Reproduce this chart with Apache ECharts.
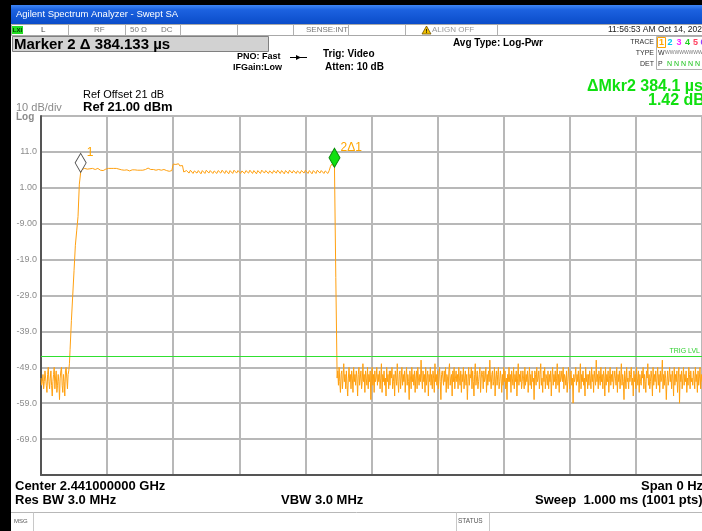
<!DOCTYPE html>
<html><head><meta charset="utf-8">
<script src="https://cdn.jsdelivr.net/npm/echarts@6/dist/echarts.min.js"></script>
<style>html,body{margin:0;padding:0;background:#fff}#c{width:702px;height:531px}</style>
</head><body><div id="c"></div>
<script>
// Sweep 0 .. 1.000 ms. Noise segments read at 0.001 ms, burst at 0.002 ms.
const noiseLeadStart = 0, noiseLeadStep = 0.001;
const noiseLead = [-52,-54,-53,-51,-55,-53,-50,-52,-54,-56,-51,-49,-53,-55,-52,-50,-54,-57,-53,-51,
 -49,-55,-52,-50,-56,-54,-51,-53,-58,-52,-50,-49,-54,-56,-51,-53,-57,-50,-49,-52,-55,-51,-50,-48];
const burstStart = 0.044, burstStep = 0.002;
const riseEdge = [-44,-36,-29,-22,-15,-11,-7,2];
const plateau = [5.3,
 6.1,6.3,6.4,6.3,6.2,6.4,6.3,6.2,6.4,6.3,6.1,6.3,6.4,6.2,
 5.9,5.7,5.8,6.0,6.2,
 6.3,6.4,6.3,6.4,6.5,6.4,6.3,6.4,6.3,6.2,6.1,6.0,5.9,
 5.9,5.8,6.0,5.9,5.7,5.8,6.0,5.9,6.0,5.8,5.9,6.0,5.9,6.0,5.9,6.0,6.1,6.3,
 6.5,6.4,6.1,6.0,6.1,6.0,5.9,6.0,6.1,6.0,5.9,6.0,6.1,6.0,
 5.8,5.7,5.6,5.7,5.8,
 7.6,7.9,7.5,7.3,7.7,7.1,7.0,7.2,
 5.4,
 5.0,5.8,6.2,5.1,5.9,6.1,5.0,5.7,6.2,5.1,5.8,6.2,4.9,5.8,6.1,5.0,5.9,6.2,5.1,5.8,6.2,5.0,5.7,6.1,5.0,5.8,6.2,5.1,5.9,6.2,
 5.0,5.8,6.1,4.9,5.8,6.2,5.0,5.9,6.2,5.1,5.8,6.1,5.0,5.7,6.2,5.0,5.8,6.2,5.1,5.9,6.1,5.0,5.8,6.2,4.9,5.8,6.2,5.0,5.9,6.1,
 5.1,5.8,6.2,5.0,5.7,6.2,5.0,5.8,6.1,5.1,5.9,6.2,5.0,5.8,6.2,4.9,5.8,6.1,5.0,5.9,6.2,5.1,5.8,6.2,5.0,5.7,6.1,5.0,5.8,6.2,
 5.1,5.9,6.2,5.0,5.8,6.1,4.9,5.8,6.2,5.0,5.9,6.2,5.1,5.8,6.1,5.0,5.7,6.2,5.0,5.8,
 7.0,7.6,7.3,
 6.72];
const fallEdge = [-24];
const noiseTrailStart = 0.448, noiseTrailStep = 0.001;
const noiseTrail = [
 -52,-50,-54,-49,-53,-56,-51,-50,-55,-52,-48,-53,-51,-55,-50,-54,-57,-52,-49,-53,
 -51,-55,-50,-52,-56,-49,-53,-51,-54,-50,-52,-57,-51,-49,-54,-52,-50,-55,-53,-48,
 -53,-51,-56,-50,-52,-54,-49,-55,-51,-53,-50,-58,-52,-49,-54,-51,-56,-50,-53,-52,
 -49,-54,-51,-53,-50,-55,-52,-48,-56,-51,-53,-50,-54,-52,-57,-49,-53,-51,-55,-50,
 -54,-50,-52,-49,-55,-53,-51,-57,-50,-52,-54,-48,-53,-56,-51,-50,-55,-52,-49,-54,
 -51,-53,-50,-56,-52,-49,-54,-51,-53,-58,-50,-52,-55,-49,-53,-51,-54,-50,-56,-52,
 -50,-55,-49,-52,-54,-51,-53,-47,-52,-55,-50,-53,-51,-56,-49,-54,-52,-50,-57,-51,
 -53,-49,-54,-51,-55,-50,-52,-56,-48,-53,-51,-54,-50,-55,-52,-49,-53,-58,-51,-50,
 -52,-54,-50,-53,-49,-56,-51,-52,-55,-50,-48,-54,-52,-51,-57,-50,-53,-49,-55,-52,
 -50,-53,-51,-55,-49,-52,-54,-50,-56,-51,-53,-49,-55,-52,-50,-54,-51,-58,-53,-49,
 -54,-51,-52,-49,-55,-50,-53,-57,-51,-48,-54,-52,-50,-55,-53,-51,-49,-56,-52,-50,
 -51,-55,-50,-53,-52,-49,-56,-51,-54,-50,-53,-47,-52,-55,-51,-50,-54,-53,-49,-57,
 -52,-50,-54,-51,-49,-55,-53,-50,-52,-56,-51,-54,-49,-53,-50,-55,-52,-58,-51,-53,
 -49,-53,-51,-56,-50,-52,-54,-49,-55,-51,-53,-50,-57,-52,-48,-54,-51,-53,-50,-55,
 -53,-50,-52,-55,-49,-54,-51,-53,-50,-56,-52,-49,-54,-51,-55,-50,-53,-52,-58,-50,
 -51,-54,-49,-53,-52,-50,-55,-51,-48,-54,-52,-56,-50,-53,-49,-55,-51,-52,-54,-50,
 -55,-51,-53,-50,-57,-52,-49,-54,-51,-53,-50,-55,-52,-48,-54,-51,-56,-50,-53,-52,
 -50,-53,-49,-55,-51,-52,-54,-50,-56,-53,-49,-52,-55,-51,-50,-54,-52,-59,-51,-53,
 -52,-49,-54,-51,-53,-50,-56,-52,-48,-55,-51,-53,-50,-54,-52,-57,-49,-53,-51,-55,
 -51,-54,-50,-52,-55,-49,-53,-51,-56,-50,-52,-54,-47,-53,-51,-55,-50,-52,-54,-49,
 -53,-51,-55,-50,-52,-57,-49,-54,-51,-53,-50,-56,-52,-49,-54,-51,-53,-50,-55,-52,
 -50,-52,-54,-49,-56,-51,-53,-50,-55,-52,-48,-54,-51,-53,-58,-50,-52,-55,-49,-53,
 -52,-55,-50,-53,-51,-49,-54,-52,-57,-50,-53,-51,-55,-49,-52,-54,-50,-56,-51,-53,
 -54,-50,-52,-49,-55,-51,-53,-56,-50,-52,-48,-54,-51,-55,-53,-50,-52,-57,-49,-54,
 -51,-53,-50,-55,-52,-49,-54,-51,-56,-50,-53,-52,-47,-55,-51,-54,-50,-52,-58,-53,
 -50,-54,-52,-49,-53,-51,-55,-50,-52,-57,-49,-54,-51,-53,-50,-56,-52,-49,-59,-51,
 -53,-50,-55,-52,-49,-54,-51,-53,-50,-56,-52,-54,-49,-51,-55,-50,-53,-52,-54,-50,
 -52,-55,-49,-53,-51,-56,-50,-54,-52,-49,-55,-51,-53];
const markerTimes = [0.060, 0.444];
const markerNames = ['1', '2\u03941'];
const trigLevel = -46;
const yTickValues = [11, 1, -9, -19, -29, -39, -49, -59, -69];
const yTickText = ['11.0', '1.00', '-9.00', '-19.0', '-29.0', '-39.0', '-49.0', '-59.0', '-69.0'];

function seg(start, step, vals) { return vals.map((v, i) => [+(start + i * step).toFixed(4), v]); }
const traceData = seg(noiseLeadStart, noiseLeadStep, noiseLead)
  .concat(seg(burstStart, burstStep, riseEdge.concat(plateau, fallEdge)))
  .concat(seg(noiseTrailStart, noiseTrailStep, noiseTrail));
function valueAt(t) { const p = traceData.find(d => Math.abs(d[0] - t) < 1e-6); return p ? p[1] : null; }

const FF = '"Liberation Sans", Arial, sans-serif';
const els = [];
function T(x, y, text, font, fill, align) {
  els.push({type:'text', x:x, y:y, silent:true, z:10,
    style:{text:text, font:font + ' ' + FF, fill:fill || '#000', align:align || 'left', textAlign:align || 'left', verticalAlign:'middle', textVerticalAlign:'middle'}});
}
function R(x, y, w, h, fill, stroke) {
  els.push({type:'rect', silent:true, z:5, shape:{x:x, y:y, width:w, height:h}, style:{fill:fill || 'none', stroke:stroke || null, lineWidth:1}});
}
function L(x1, y1, x2, y2, stroke) {
  els.push({type:'line', silent:true, z:6, shape:{x1:x1, y1:y1, x2:x2, y2:y2}, style:{stroke:stroke || '#a0a0a0', lineWidth:1}});
}
// window frame
R(0, 0, 702, 5, '#000');
R(0, 0, 11, 531, '#000');
els.push({type:'rect', silent:true, z:5, shape:{x:11, y:5, width:691, height:19},
  style:{fill:{type:'linear', x:0, y:0, x2:0, y2:1, colorStops:[{offset:0, color:'#3f86f5'}, {offset:0.25, color:'#1c62e0'}, {offset:1, color:'#0a4cc9'}]}}});
T(16, 14.5, 'Agilent Spectrum Analyzer - Swept SA', '9.5px', '#ffffff');
// status row
R(11.5, 24.5, 691, 11, '#ffffff', '#a8a8a8');
[68, 125, 180, 237, 293, 348, 405, 497].forEach(x => L(x + 0.5, 24.5, x + 0.5, 35.5, '#b0b0b0'));
R(12, 26, 11, 8, '#22dd22');
T(17.5, 30, 'LXI', 'bold 6px', '#003300', 'center');
T(41, 30, 'L', '8px', '#444');
T(94, 30, 'RF', '8px', '#777');
T(130, 30, '50 \u03a9', '8px', '#777');
T(161, 30, 'DC', '8px', '#777');
T(306, 30, 'SENSE:INT', '8px', '#777');
els.push({type:'polygon', silent:true, z:6, shape:{points:[[422,34],[426.5,26],[431,34]]}, style:{fill:'#f0c000', stroke:'#705000', lineWidth:0.8}});
T(426.5, 31, '!', 'bold 6px', '#000', 'center');
T(432, 30, 'ALIGN OFF', '8px', '#999');
T(608, 30, '11:56:53 AM Oct 14, 2020', '8.5px', '#222');
// marker box
R(12.5, 36.5, 256, 15, '#d2d2d2', '#808080');
T(14, 44.5, 'Marker 2 \u0394 384.133 \u00b5s', 'bold 15px', '#000');
T(237, 57, 'PNO: Fast', 'bold 9px', '#000');
T(233, 68, 'IFGain:Low', 'bold 9px', '#000');
L(290, 57.5, 307, 57.5, '#000');
els.push({type:'polygon', silent:true, z:6, shape:{points:[[296,55],[301,57.5],[296,60]]}, style:{fill:'#000'}});
T(323, 54, 'Trig: Video', 'bold 10px', '#000');
T(325, 67, 'Atten: 10 dB', 'bold 10px', '#000');
T(453, 43, 'Avg Type: Log-Pwr', 'bold 10px', '#000');
// trace table
T(654, 42, 'TRACE', '7px', '#333', 'right');
T(654, 53, 'TYPE', '7px', '#333', 'right');
T(654, 64, 'DET', '7px', '#333', 'right');
R(656.5, 36.5, 50, 33, null, '#b0b0b0');
R(657.5, 37.5, 8, 10, null, '#ffa500');
T(661.5, 42.5, '1', 'bold 9px', '#ffa500', 'center');
T(670, 42.5, '2', 'bold 9px', '#00c8f0', 'center');
T(679, 42.5, '3', 'bold 9px', '#ff20ff', 'center');
T(687.5, 42.5, '4', 'bold 9px', '#20d020', 'center');
T(695.5, 42.5, '5', 'bold 9px', '#ff4060', 'center');
T(703, 42.5, '6', 'bold 9px', '#9040ff', 'center');
T(658, 53, 'W', '7px', '#333');
T(665, 53, 'WWWWWWWWWWWW', '5px', '#777');
T(658, 64, 'P', '7px', '#333');
T(667, 64, 'N N N N N', '7px', '#10c010');
// delta marker readout
T(587, 87, '\u0394Mkr2 384.1 \u00b5s', 'bold 16px', '#10e010');
T(648, 101, '1.42 dB', 'bold 16px', '#10e010');
// reference level
T(83, 95, 'Ref Offset 21 dB', '11px', '#000');
T(83, 107, 'Ref 21.00 dBm', 'bold 13px', '#000');
T(16, 108, '10 dB/div', '11px', '#8a8a8a');
T(16, 117, 'Log', 'bold 10px', '#8a8a8a');
// bottom annotations
T(15, 486, 'Center 2.441000000 GHz', 'bold 13px', '#000');
T(15, 500, 'Res BW 3.0 MHz', 'bold 13px', '#000');
T(281, 500, 'VBW 3.0 MHz', 'bold 13px', '#000');
T(641, 486, 'Span 0 Hz', 'bold 13px', '#000');
T(535, 500, 'Sweep  1.000 ms (1001 pts)', 'bold 13px', '#000');
L(11, 512.5, 702, 512.5, '#b8b8b8');
L(33.5, 512.5, 33.5, 531, '#c8c8c8');
L(456.5, 512.5, 456.5, 531, '#c8c8c8');
L(489.5, 512.5, 489.5, 531, '#c8c8c8');
T(14, 521, 'MSG', '6px', '#555');
T(458, 521, 'STATUS', '6.5px', '#555');

const chart = echarts.init(document.getElementById('c'), null, {renderer:'canvas'});
chart.setOption({
  animation:false,
  backgroundColor:'#ffffff',
  grid:{left:41, top:116, width:665, height:359, show:false},
  xAxis:{type:'value', min:0, max:1, interval:0.1,
    axisLabel:{show:false}, axisTick:{show:false},
    axisLine:{show:true, onZero:false, lineStyle:{color:'#555', width:2}},
    splitLine:{show:true, lineStyle:{color:'#b8b8b8', width:2}}},
  yAxis:{type:'value', min:-79, max:21, interval:10,
    axisLine:{show:true, onZero:false, lineStyle:{color:'#555', width:2}},
    axisTick:{show:false},
    axisLabel:{color:'#8c8c8c', fontSize:9, margin:4, fontFamily:'Liberation Sans',
      formatter:function(v){ const k = yTickValues.findIndex(t => Math.abs(t - v) < 1e-6); return k >= 0 ? yTickText[k] : ''; }},
    splitLine:{show:true, lineStyle:{color:'#b8b8b8', width:2}}},
  series:[{
    type:'line', data:traceData, showSymbol:false, symbol:'none',
    lineStyle:{color:'#ffa010', width:1}, z:3,
    markLine:{silent:true, symbol:'none', animation:false,
      data:[{yAxis:trigLevel}],
      lineStyle:{color:'#30e030', width:1, type:'solid'},
      label:{show:true, position:'insideEndTop', formatter:'TRIG LVL', color:'#30d030', fontSize:7, distance:2, fontFamily:'Liberation Sans'}},
    markPoint:{silent:true, animation:false,
      data: markerTimes.map((t, k) => ({
        coord:[t, valueAt(t)],
        symbol:'diamond', symbolSize:[11, 19], symbolOffset:[0, '-50%'],
        itemStyle: k === 0 ? {color:'#ffffff', borderColor:'#505050', borderWidth:1} : {color:'#10e010', borderColor:'#0a8a0a', borderWidth:1},
        label:{show:true, formatter:markerNames[k], position:[12, -6], align:'left', verticalAlign:'top', color:'#ffa500', fontSize:12, fontFamily:'Liberation Sans'}
      }))}
  }],
  graphic:{elements:els}
});
</script></body></html>
